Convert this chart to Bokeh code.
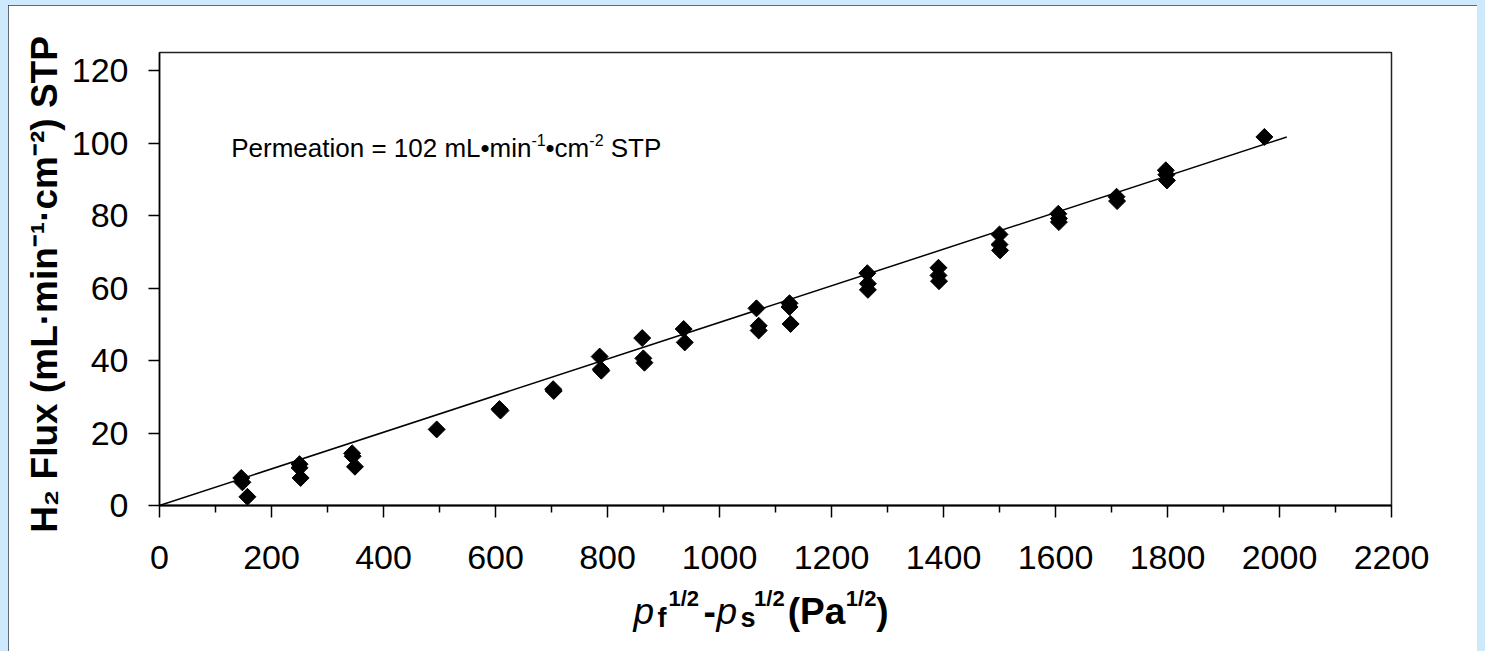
import numpy as np
from bokeh.plotting import figure
from bokeh.models import Label, Range1d, FixedTicker
from bokeh.embed import file_html
from bokeh.resources import INLINE

# ---- data ----
x_vals = [146, 148, 157,
          250, 250, 252,
          344, 345, 349,
          495,
          607, 609,
          703, 704,
          786, 788, 789,
          862, 864, 866,
          936, 938,
          1066, 1070, 1070,
          1125, 1125, 1127,
          1264, 1265, 1265,
          1391, 1391, 1392,
          1500, 1500, 1501,
          1605, 1606, 1606,
          1709, 1710,
          1797, 1798, 1799,
          1973]
y_vals = [7.6, 6.4, 2.4,
          11.4, 10.4, 7.6,
          14.4, 13.6, 10.7,
          21.0,
          26.6, 26.2,
          32.1, 31.6,
          41.1, 37.6, 37.2,
          46.2, 40.6, 39.4,
          48.7, 45.0,
          54.4, 49.6, 48.3,
          55.8, 54.8, 50.1,
          64.1, 61.2, 59.5,
          65.6, 63.5, 61.9,
          74.8, 72.0, 70.4,
          80.5, 79.2, 78.2,
          85.2, 84.0,
          92.5, 91.3, 89.7,
          101.7]
fit_x = [0, 2013]
fit_y = [0, 101.7]
x_ticks = [0, 200, 400, 600, 800, 1000, 1200, 1400, 1600, 1800, 2000, 2200]
x_minor_ticks = [100, 300, 500, 700, 900, 1100, 1300, 1500, 1700, 1900, 2100]
y_ticks = [0, 20, 40, 60, 80, 100, 120]

FONT = "Liberation Sans"

p = figure(width=1469, height=646,
           x_range=Range1d(0, 2200), y_range=Range1d(0, 125),
           output_backend="svg", toolbar_location=None,
           min_border_left=151, min_border_right=86,
           min_border_top=47, min_border_bottom=146,
           background_fill_color="white", border_fill_color="white")
p.styles = {"margin": "5px 0 0 8px",
            "box-shadow": "0 0 0 8px #cde9fb",
            "outline": "2px solid #2d3a48",
            "outline-offset": "-2px"}
p.grid.visible = False
p.outline_line_color = "#222222"
p.outline_line_width = 1.5

xa = p.xaxis[0]
xa.ticker = FixedTicker(ticks=x_ticks, minor_ticks=x_minor_ticks)
xa.axis_line_width = 2
xa.axis_line_color = "black"
xa.major_tick_out = 12
xa.major_tick_in = 0
xa.minor_tick_out = 7
xa.minor_tick_in = 0
xa.major_tick_line_width = 1.5
xa.minor_tick_line_width = 1.5
xa.major_label_text_font = FONT
xa.major_label_text_font_size = "34px"
xa.major_label_text_color = "black"
xa.major_label_standoff = 28

ya = p.yaxis[0]
ya.ticker = FixedTicker(ticks=y_ticks)
ya.axis_line_width = 1.5
ya.axis_line_color = "black"
ya.major_tick_out = 11
ya.major_tick_in = 0
ya.minor_tick_out = 0
ya.minor_tick_in = 0
ya.major_tick_line_width = 1.5
ya.major_label_text_font = FONT
ya.major_label_text_font_size = "34px"
ya.major_label_text_color = "black"
ya.major_label_standoff = 20

p.line(fit_x, fit_y, line_color="black", line_width=1.5)
p.scatter(x_vals, y_vals, marker="square", size=12, angle=np.pi / 4,
          fill_color="black", line_color="black")

# ---- text placement (page pixel positions relative to the frame origin) ----
X0, Y0 = 159, 505
SHIFT = 0.37  # measured baseline drift of Bokeh labels, in em

# advance widths (em) of Arial-metric glyphs used in the composed titles
ADV = {"p": 0.556, "f": 0.333, "s": 0.556, "-": 0.333, "(": 0.333,
       "P": 0.667, "a": 0.556, ")": 0.333, "1": 0.556, "/": 0.278,
       "2": 0.556}
NBSP = "\u00a0"


def spaced(pieces, size):
    """Join (text, page_x) pieces with no-break spaces to reach each x."""
    out = pieces[0][0]
    cur = pieces[0][1] + sum(ADV[c] for c in pieces[0][0]) * size
    for txt, px in pieces[1:]:
        n = max(1, int(round((px - cur) / (0.278 * size))))
        out += NBSP * n + txt
        cur += n * 0.278 * size + sum(ADV[c] for c in txt) * size
    return out, pieces[0][1]


def make_text(text, px, py, size, style="normal", angle=0.0, align="left"):
    if angle == 0.0:
        xo, yo = px - X0, Y0 - (py - SHIFT * size)
    else:
        xo, yo = (px - SHIFT * size) - X0, Y0 - py
    return Label(x=0, y=0, x_offset=xo, y_offset=yo,
                 text=text, text_font=FONT,
                 text_font_size=f"{size}px", text_font_style=style,
                 text_color="black", angle=angle,
                 text_align=align, text_baseline="alphabetic")


# annotation inside the plot area
p.add_layout(make_text("Permeation = 102 mL\u2022min", 230.7, 156.7, 26))
p.add_layout(make_text("-1", 531, 145.5, 16))
p.add_layout(make_text("\u2022cm", 545, 156.7, 26))
p.add_layout(make_text("-2", 588.8, 145.5, 16))
p.add_layout(make_text("STP", 610.2, 156.7, 26))

# y-axis title (rotated, centred)
p.add_layout(make_text("H\u2082 Flux (mL\u00b7min\u207b\u00b9\u00b7cm\u207b\u00b2) STP",
                       58, 284, 37, "bold", np.pi / 2, "center"), "left")

# x-axis title, composed from pieces
t, x = spaced([("-", 703), ("(Pa", 786), (")", 877)], 37)
p.add_layout(make_text(t, x, 625, 37, "bold"), "below")
t, x = spaced([("1/2", 668), ("1/2", 753), ("1/2", 845)], 22)
p.add_layout(make_text(t, x, 606, 22, "bold"), "above")
p.add_layout(make_text("p", 633, 625, 37, "italic"), "right")
p.add_layout(make_text("p", 716, 625, 37, "italic"), "right")
p.add_layout(make_text("f", 657, 627, 27, "bold"), "right")
p.add_layout(make_text("s", 740, 627, 27, "bold"), "right")

open("out.html", "w").write(file_html(p, INLINE))
